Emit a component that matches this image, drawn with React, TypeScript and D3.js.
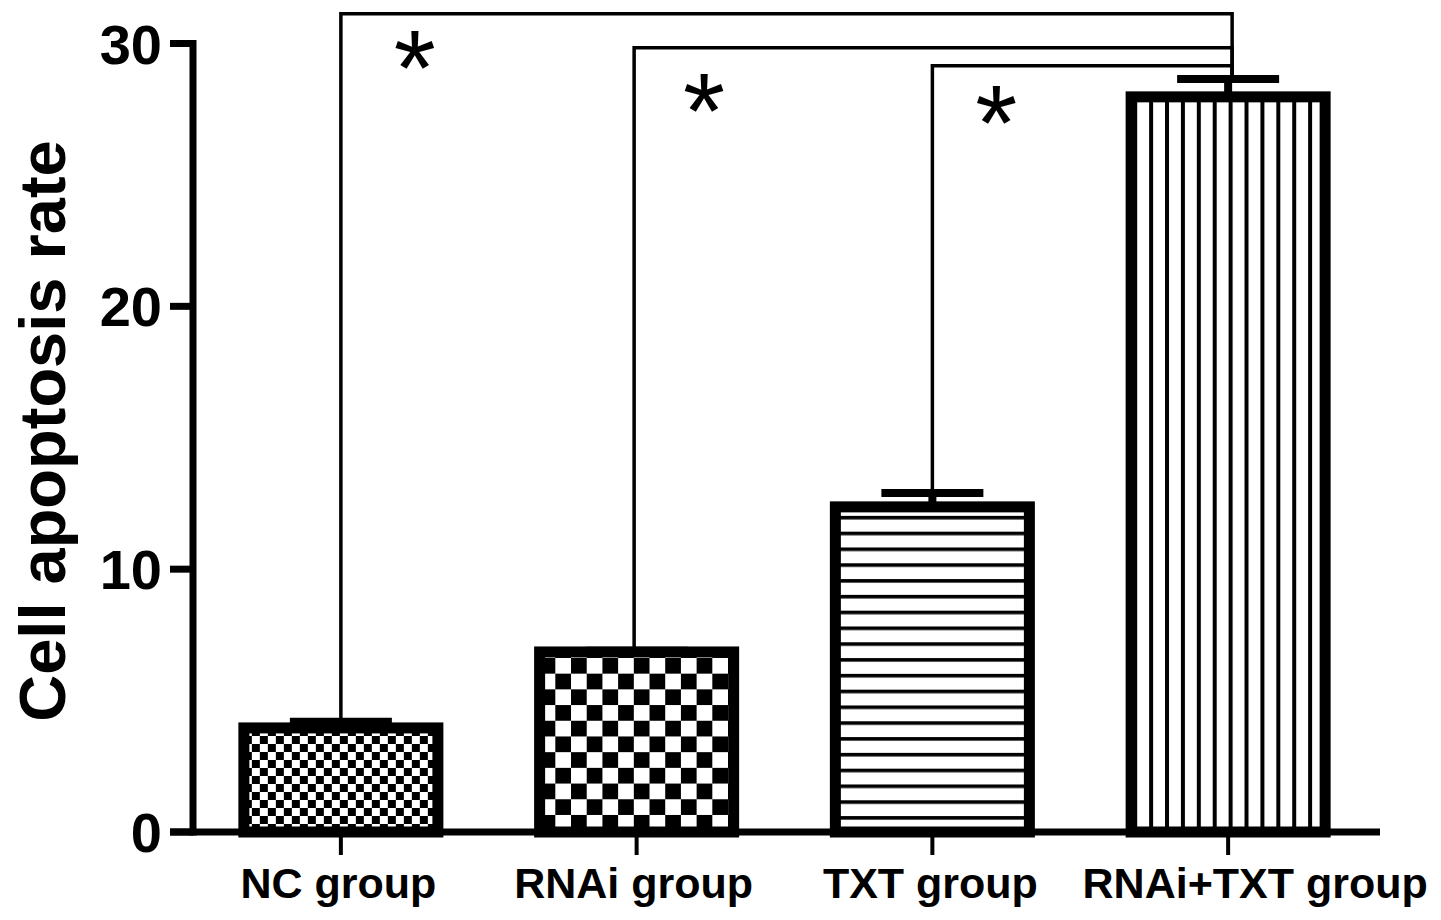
import React from "react";
import * as d3 from "d3";

const categories = ["NC group", "RNAi group", "TXT group", "RNAi+TXT group"];
const means = [3.96, 6.85, 12.37, 27.97];
const errors = [0.23, 0.05, 0.53, 0.68];
const yTicks = [0, 10, 20, 30];
const yLabel = "Cell apoptosis rate";
// significance comparisons: [fromIndex, toIndex]
const comparisons: [number, number][] = [
  [0, 3],
  [1, 3],
  [2, 3],
];
const bracketLevels = [31.13, 29.84, 29.15];
const starLevels = [29.68, 28.04, 27.59];
const starLabels = ["*", "*", "*"];

const W = 1441;
const H = 920;
const FONT = "'Liberation Sans', Arial, Helvetica, sans-serif";

export default function App() {
  const x = d3
    .scaleBand<string>()
    .domain(categories)
    .range([193, 1376])
    .paddingInner(0.344)
    .paddingOuter(0.172);
  const y = d3.scaleLinear().domain([0, 30]).range([832, 43.5]);
  const bw = x.bandwidth();
  const cx = (c: string) => (x(c) as number) + bw / 2;
  const patternIds = ["pFineChecker", "pChecker", "pHStripes", "pVStripes"];
  const capHalf = 51;
  const xLabelSize = 43;
  const labelShift = [-2.5, -3, -2, 27];
  const starShift = [74, 70, 64];
  const starSize = 108;

  return (
    <svg
      width={W}
      height={H}
      viewBox={`0 0 ${W} ${H}`}
      style={{ position: "absolute", left: 0, top: 0, background: "#fff" }}
    >
      <defs>
        <pattern id="pFineChecker" patternUnits="userSpaceOnUse" width={16} height={16} x={x(categories[0])} y={0}>
          <rect width={16} height={16} fill="#fff" />
          <rect width={8} height={8} fill="#000" />
          <rect x={8} y={8} width={8} height={8} fill="#000" />
        </pattern>
        <pattern id="pChecker" patternUnits="userSpaceOnUse" width={31.4} height={31.4} x={x(categories[1])} y={y(means[1]) + 6}>
          <rect width={31.4} height={31.4} fill="#fff" />
          <rect width={15.7} height={15.7} fill="#000" />
          <rect x={15.7} y={15.7} width={15.7} height={15.7} fill="#000" />
        </pattern>
        <pattern id="pHStripes" patternUnits="userSpaceOnUse" width={20} height={15.8} x={0} y={y(means[2]) + 9}>
          <rect width={20} height={15.8} fill="#fff" />
          <rect y={0} width={20} height={3.6} fill="#000" />
        </pattern>
        <pattern id="pVStripes" patternUnits="userSpaceOnUse" width={15.9} height={20} x={(x(categories[3]) as number) + 18} y={0}>
          <rect width={15.9} height={20} fill="#fff" />
          <rect x={0} width={4} height={20} fill="#000" />
        </pattern>
      </defs>

      {/* bars */}
      {categories.map((c, i) => (
        <rect
          key={c}
          x={x(c)}
          y={y(means[i])}
          width={bw}
          height={y(0) - y(means[i])}
          fill={`url(#${patternIds[i]})`}
          stroke="#000"
          strokeWidth={11}
        />
      ))}

      {/* error bars */}
      {categories.map((c, i) => (
        <g key={"e" + c} stroke="#000">
          <line x1={cx(c)} x2={cx(c)} y1={y(means[i])} y2={y(means[i] + errors[i])} strokeWidth={8} />
          <line
            x1={cx(c) - capHalf}
            x2={cx(c) + capHalf}
            y1={y(means[i] + errors[i])}
            y2={y(means[i] + errors[i])}
            strokeWidth={8}
          />
        </g>
      ))}

      {/* axes */}
      <g stroke="#000" fill="none">
        <line x1={193} x2={193} y1={y(30) - 3.5} y2={y(0) + 3.5} strokeWidth={7} />
        <line x1={170} x2={1380} y1={y(0)} y2={y(0)} strokeWidth={7} />
        {yTicks.map((t) => (
          <line key={t} x1={170} x2={193} y1={y(t)} y2={y(t)} strokeWidth={7} />
        ))}
        {categories.map((c) => (
          <line key={c} x1={cx(c)} x2={cx(c)} y1={y(0)} y2={855} strokeWidth={4} />
        ))}
      </g>

      {/* y tick labels */}
      {yTicks.map((t) => (
        <text
          key={t}
          x={162}
          y={y(t) + 20}
          textAnchor="end"
          fontFamily={FONT}
          fontWeight="bold"
          fontSize={56}
          fill="#000"
        >
          {t}
        </text>
      ))}

      {/* x labels */}
      {categories.map((c, i) => (
        <text
          key={c}
          x={cx(c) + labelShift[i]}
          y={898}
          textAnchor="middle"
          fontFamily={FONT}
          fontWeight="bold"
          fontSize={xLabelSize}
          fill="#000"
        >
          {c}
        </text>
      ))}

      {/* y axis title */}
      <text
        transform="translate(65,431) rotate(-90)"
        textAnchor="middle"
        fontFamily={FONT}
        fontWeight="bold"
        fontSize={65}
        fill="#000"
      >
        {yLabel}
      </text>

      {/* significance brackets */}
      {comparisons.map(([a, b], k) => {
        const xa = cx(categories[a]) - (k === 1 ? 2.5 : 0);
        const xb = cx(categories[b]) + 4;
        const yb = y(bracketLevels[k]);
        const ya = y(means[a] + errors[a]);
        const yEnd = y(means[b] + errors[b]);
        return (
          <g key={k}>
            <path
              d={`M${xa},${ya} V${yb} H${xb} V${yEnd}`}
              fill="none"
              stroke="#000"
              strokeWidth={3.5}
            />
            <text
              x={xa + starShift[k]}
              y={y(starLevels[k]) + 0.49 * starSize}
              textAnchor="middle"
              fontFamily={FONT}
              fontSize={starSize}
              fill="#000"
            >
              {starLabels[k]}
            </text>
          </g>
        );
      })}
    </svg>
  );
}
